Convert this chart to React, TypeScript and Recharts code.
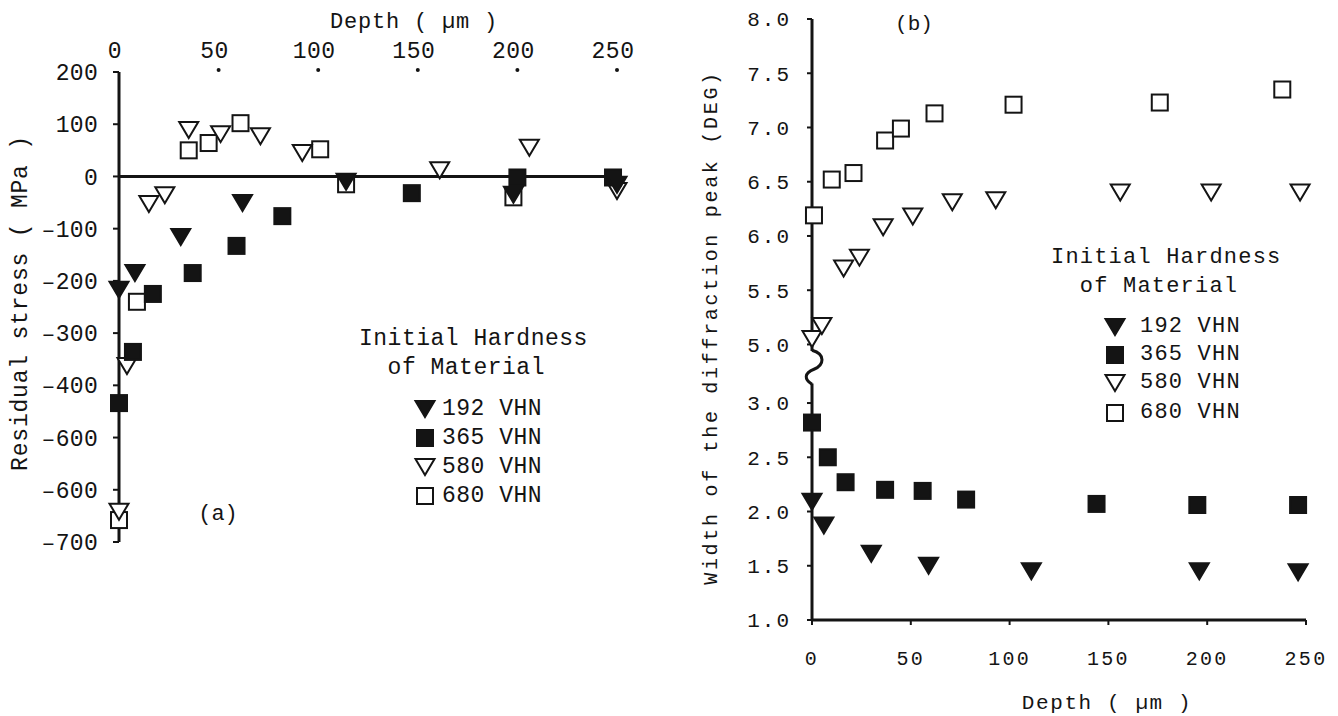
import React from 'react';
import { ScatterChart, Scatter, XAxis, YAxis, ReferenceLine, ReferenceDot } from 'recharts';

const INK = '#141414';
const MONO = '"Liberation Mono", "DejaVu Sans Mono", monospace';

// shared depth ticks (µm)
const DEPTH_TICKS = [0, 50, 100, 150, 200, 250];

// ---- panel (a): residual stress (MPa) vs depth ----
const STRESS_TICKS = [-700, -600, -500, -400, -300, -200, -100, 0, 100, 200];
// the original figure prints "-600" twice (at -500 and -600)
const STRESS_LABELS: Record<number, string> = { [-500]: '–600' };

const aDepth192 = [0, 8, 31, 62, 114, 198, 250];
const aStress192 = [-217, -185, -116, -51, -10, -35, -16];

const aDepth365 = [0, 7, 17, 37, 59, 82, 147, 200, 248];
const aStress365 = [-434, -336, -225, -185, -133, -76, -32, -2, -2];

const aDepth580 = [0, 4, 15, 23, 35, 51, 71, 92, 161, 206, 250];
const aStress580 = [-642, -363, -53, -36, 89, 81, 77, 45, 12, 55, -28];

const aDepth680 = [0, 9, 35, 45, 61, 101, 114, 198];
const aStress680 = [-658, -240, 50, 64, 102, 52, -15, -40];

// ---- panel (b): width of the diffraction peak (DEG) vs depth ----
const WIDTH_TICKS = [1.0, 1.5, 2.0, 2.5, 3.0, 5.0, 5.5, 6.0, 6.5, 7.0, 7.5, 8.0];
const BREAK = 1.46; // values above the axis break are shifted down by this much

const bDepth192 = [0, 6, 30, 59, 111, 196, 246];
const bWidth192 = [2.09, 1.87, 1.61, 1.5, 1.45, 1.45, 1.44];

const bDepth365 = [0, 8, 17, 37, 56, 78, 144, 195, 246];
const bWidth365 = [2.82, 2.5, 2.27, 2.2, 2.19, 2.11, 2.07, 2.06, 2.06];

const bDepth580 = [0, 5, 16, 24, 36, 51, 71, 93, 156, 202, 247];
const bWidth580 = [5.05, 5.17, 5.7, 5.8, 6.08, 6.18, 6.31, 6.33, 6.4, 6.4, 6.4];

const bDepth680 = [1, 10, 21, 37, 45, 62, 102, 176, 238];
const bWidth680 = [6.19, 6.52, 6.58, 6.88, 6.99, 7.13, 7.21, 7.23, 7.35];

const SERIES_NAMES = ['192 VHN', '365 VHN', '580 VHN', '680 VHN'];
const KINDS = ['triFill', 'sqFill', 'triOpen', 'sqOpen'];

const toAxis = (v: number) => (v > 4 ? v - BREAK : v);
const fmtWidth = (t: number) => (t > 3.2 ? (t + BREAK).toFixed(1) : t.toFixed(1));
const fmtStress = (v: number) => STRESS_LABELS[v] ?? (v < 0 ? '–' + Math.abs(v) : String(v));

const pts = (xs: number[], ys: number[], f = (v: number) => v) => xs.map((x, i) => ({ x, y: f(ys[i]) }));

const Marker = ({ cx, cy, kind }: { cx: number; cy: number; kind: string }) => {
  const filled = kind.endsWith('Fill');
  const fill = filled ? INK : '#fff';
  if (kind.startsWith('tri')) {
    const w = 19, h = 16;
    return (
      <path
        d={`M${cx - w / 2},${cy - h / 2} L${cx + w / 2},${cy - h / 2} L${cx},${cy + h / 2} Z`}
        fill={fill}
        stroke={INK}
        strokeWidth={2}
      />
    );
  }
  const s = 16;
  return <rect x={cx - s / 2} y={cy - s / 2} width={s} height={s} fill={fill} stroke={INK} strokeWidth={2} />;
};

const shapeFor = (kind: string) => (p: any) => <Marker cx={p.cx} cy={p.cy} kind={kind} />;

const TopTick = (props: any) => {
  const { x, payload } = props;
  return (
    <g>
      <text x={x - 4} y={52} textAnchor="middle" dominantBaseline="central" fontFamily={MONO} fontSize={23} letterSpacing={0.5} fill={INK}>
        {payload.value}
      </text>
      {payload.value > 0 && <circle cx={x} cy={70} r={2} fill={INK} />}
    </g>
  );
};

const LegendBlock = ({ left, top, fontSize, ls, rowLeft, textLeft, rows }: any) => {
  const txt = { fontFamily: MONO, fontSize, letterSpacing: ls, color: INK, whiteSpace: 'pre' as const };
  const line = (y: number, x: number, s: string) => (
    <div style={{ ...txt, position: 'absolute', left: x, top: y - 15, height: 30, lineHeight: '30px' }}>{s}</div>
  );
  return (
    <>
      {line(top[0], left, 'Initial Hardness')}
      {line(top[1], left, '  of Material')}
      {SERIES_NAMES.map((name, i) => (
        <React.Fragment key={name}>
          <svg style={{ position: 'absolute', left: rowLeft - 12, top: rows[i] - 12 }} width={24} height={24}>
            <Marker cx={12} cy={12} kind={KINDS[i]} />
          </svg>
          {line(rows[i], textLeft, name)}
        </React.Fragment>
      ))}
    </>
  );
};

const PanelA = () => (
  <ScatterChart width={640} height={600} margin={{ top: 0, right: 23, bottom: 58, left: 0 }}>
    <XAxis
      type="number"
      dataKey="x"
      orientation="top"
      domain={[0, 250]}
      ticks={DEPTH_TICKS}
      height={72}
      axisLine={false}
      tickLine={false}
      tick={<TopTick />}
      label={{
        content: ({ viewBox }: any) => (
          <text x={viewBox.x + viewBox.width / 2 + 46} y={viewBox.y + 22} textAnchor="middle" dominantBaseline="central" fontFamily={MONO} fontSize={22} letterSpacing={0.8} fill={INK}>
            Depth ( µm )
          </text>
        ),
      }}
    />
    <YAxis
      type="number"
      dataKey="y"
      domain={[-700, 200]}
      ticks={STRESS_TICKS}
      width={119}
      axisLine={{ stroke: INK, strokeWidth: 3 }}
      tickLine={{ stroke: INK, strokeWidth: 2 }}
      tickSize={6}
      tickMargin={15}
      tickFormatter={fmtStress}
      tick={{ fontFamily: MONO, fontSize: 23, letterSpacing: 0.3, fill: INK }}
      label={{
        content: ({ viewBox }: any) => {
          const cx = viewBox.x + 21;
          const cy = viewBox.y + viewBox.height / 2 - 4;
          return (
            <text x={cx} y={cy} transform={`rotate(-90 ${cx} ${cy})`} textAnchor="middle" dominantBaseline="central" fontFamily={MONO} fontSize={23} letterSpacing={0.8} fill={INK}>
              Residual stress ( MPa )
            </text>
          );
        },
      }}
    />
    <ReferenceLine y={0} stroke={INK} strokeWidth={3} />
    <Scatter name="680 VHN" data={pts(aDepth680, aStress680)} shape={shapeFor('sqOpen')} isAnimationActive={false} />
    <Scatter name="580 VHN" data={pts(aDepth580, aStress580)} shape={shapeFor('triOpen')} isAnimationActive={false} />
    <Scatter name="365 VHN" data={pts(aDepth365, aStress365)} shape={shapeFor('sqFill')} isAnimationActive={false} />
    <Scatter name="192 VHN" data={pts(aDepth192, aStress192)} shape={shapeFor('triFill')} isAnimationActive={false} />
  </ScatterChart>
);

const squiggle = (p: any) => {
  const { cx, cy } = p;
  return (
    <path
      d={`M${cx},${cy - 17} C${cx + 14},${cy - 13} ${cx + 12},${cy - 2} ${cx + 2},${cy + 2} C${cx - 8},${cy + 6} ${cx - 8},${cy + 12} ${cx},${cy + 17}`}
      fill="none"
      stroke={INK}
      strokeWidth={3}
    />
  );
};

const PanelB = () => (
  <ScatterChart width={698} height={716} margin={{ top: 19, right: 32, bottom: 0, left: 0 }}>
    <XAxis
      type="number"
      dataKey="x"
      domain={[0, 250]}
      ticks={DEPTH_TICKS}
      height={96}
      axisLine={{ stroke: INK, strokeWidth: 3 }}
      tickLine={{ stroke: INK, strokeWidth: 2 }}
      tickSize={5}
      tickMargin={26}
      tick={{ fontFamily: MONO, fontSize: 20, letterSpacing: 2.3, fill: INK }}
      label={{
        content: ({ viewBox }: any) => (
          <text x={viewBox.x + viewBox.width / 2 + 48} y={viewBox.y + 83} textAnchor="middle" dominantBaseline="central" fontFamily={MONO} fontSize={21} letterSpacing={1.6} fill={INK}>
            Depth ( µm )
          </text>
        ),
      }}
    />
    <YAxis
      type="number"
      dataKey="y"
      domain={[1, 8 - BREAK]}
      ticks={WIDTH_TICKS.map(toAxis)}
      width={172}
      axisLine={false}
      tickLine={{ stroke: INK, strokeWidth: 2 }}
      tickSize={5}
      tickMargin={16}
      tickFormatter={fmtWidth}
      tick={{ fontFamily: MONO, fontSize: 21, letterSpacing: 2, fill: INK }}
      label={{
        content: ({ viewBox }: any) => {
          const cx = viewBox.x + 71;
          const cy = viewBox.y + viewBox.height / 2 + 8;
          return (
            <text x={cx} y={cy} transform={`rotate(-90 ${cx} ${cy})`} textAnchor="middle" dominantBaseline="central" fontFamily={MONO} fontSize={20} letterSpacing={2.7} fill={INK}>
              Width of the diffraction peak (DEG)
            </text>
          );
        },
      }}
    />
    <ReferenceLine segment={[{ x: 0, y: 1 }, { x: 0, y: 3.18 }]} stroke={INK} strokeWidth={3} />
    <ReferenceLine segment={[{ x: 0, y: 3.48 }, { x: 0, y: 8 - BREAK }]} stroke={INK} strokeWidth={3} />
    <ReferenceDot x={0} y={3.33} r={0} shape={squiggle} />
    <Scatter name="680 VHN" data={pts(bDepth680, bWidth680, toAxis)} shape={shapeFor('sqOpen')} isAnimationActive={false} />
    <Scatter name="580 VHN" data={pts(bDepth580, bWidth580, toAxis)} shape={shapeFor('triOpen')} isAnimationActive={false} />
    <Scatter name="365 VHN" data={pts(bDepth365, bWidth365, toAxis)} shape={shapeFor('sqFill')} isAnimationActive={false} />
    <Scatter name="192 VHN" data={pts(bDepth192, bWidth192, toAxis)} shape={shapeFor('triFill')} isAnimationActive={false} />
  </ScatterChart>
);

export default function App() {
  return (
    <div style={{ position: 'absolute', left: 0, top: 0, width: 1338, height: 716, background: '#fff', overflow: 'hidden' }}>
      <div style={{ position: 'absolute', left: 0, top: 0 }}>
        <PanelA />
      </div>
      <div style={{ position: 'absolute', left: 640, top: 0 }}>
        <PanelB />
      </div>
      <LegendBlock left={359} top={[339, 368]} fontSize={23} ls={0.5} rowLeft={425} textLeft={442} rows={[409, 438, 467, 496]} />
      <LegendBlock left={1051} top={[258, 287]} fontSize={22} ls={1.2} rowLeft={1115} textLeft={1140} rows={[327, 355, 383, 413]} />
      <div style={{ position: 'absolute', left: 218 - 30, width: 60, top: 515 - 15, lineHeight: '30px', textAlign: 'center', fontFamily: MONO, fontSize: 22, color: INK }}>(a)</div>
      <div style={{ position: 'absolute', left: 914 - 30, width: 60, top: 25 - 15, lineHeight: '30px', textAlign: 'center', fontFamily: MONO, fontSize: 21, color: INK }}>(b)</div>
    </div>
  );
}
